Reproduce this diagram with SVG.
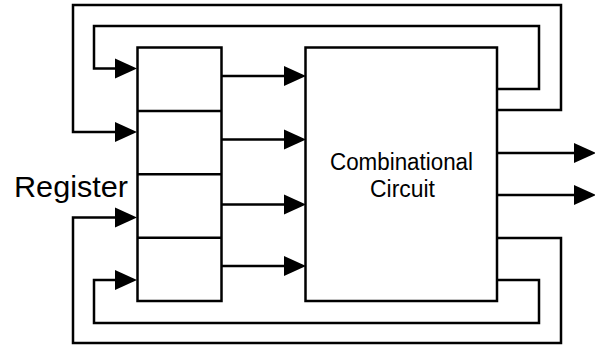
<svg xmlns="http://www.w3.org/2000/svg" width="595" height="347" viewBox="0 0 595 347">
  <defs>
    <style>
      .box { fill: #ffffff; stroke: #000000; stroke-width: 2.5; }
      .wire { fill: none; stroke: #000000; stroke-width: 2.5; stroke-linejoin: miter; }
      .lbl { font-family: "Liberation Sans", Arial, sans-serif; fill: #000000; }
      .head { fill: #000000; stroke: none; }
    </style>
  </defs>
  <rect width="595" height="347" fill="#ffffff"/>

  <g id="connectors">
    <!-- feedback loops -->
    <path class="wire" d="M497,89 H539 V26 H94 V68.5 H118"/>
    <path class="wire" d="M497,110 H561 V5 H73 V132 H118"/>
    <path class="wire" d="M497,238 H561 V343 H73 V217.5 H118"/>
    <path class="wire" d="M497,280 H539 V323 H94 V280 H118"/>
    <polygon class="head" points="115,58.5 137,68.5 115,78.5"/>
    <polygon class="head" points="115,122 137,132 115,142"/>
    <polygon class="head" points="115,207.5 137,217.5 115,227.5"/>
    <polygon class="head" points="115,270 137,280 115,290"/>
    <!-- register to circuit -->
    <path class="wire" d="M221,76 H288"/>
    <path class="wire" d="M221,139.5 H288"/>
    <path class="wire" d="M221,204.5 H288"/>
    <path class="wire" d="M221,266 H288"/>
    <polygon class="head" points="284,66 306,76 284,86"/>
    <polygon class="head" points="284,129.5 306,139.5 284,149.5"/>
    <polygon class="head" points="284,194.5 306,204.5 284,214.5"/>
    <polygon class="head" points="284,256 306,266 284,276"/>
    <!-- outputs -->
    <path class="wire" d="M497,153 H578"/>
    <path class="wire" d="M497,195 H578"/>
    <polygon class="head" points="574,143 596,153 574,163"/>
    <polygon class="head" points="574,185 596,195 574,205"/>
  </g>

  <g id="register">
    <rect class="box" x="137.5" y="47.5" width="84" height="253.5"/>
    <path class="wire" d="M137.5,110.9 H221.5 M137.5,174.3 H221.5 M137.5,237.7 H221.5"/>
    <text class="lbl" x="14" y="197" font-size="30" textLength="114" lengthAdjust="spacingAndGlyphs">Register</text>
  </g>

  <g id="combinational">
    <rect class="box" x="305.5" y="47.5" width="191.5" height="253.5"/>
    <text class="lbl" x="330" y="170" font-size="23.5" textLength="143" lengthAdjust="spacingAndGlyphs">Combinational</text>
    <text class="lbl" x="370" y="197" font-size="23.5" textLength="65" lengthAdjust="spacingAndGlyphs">Circuit</text>
  </g>
</svg>
